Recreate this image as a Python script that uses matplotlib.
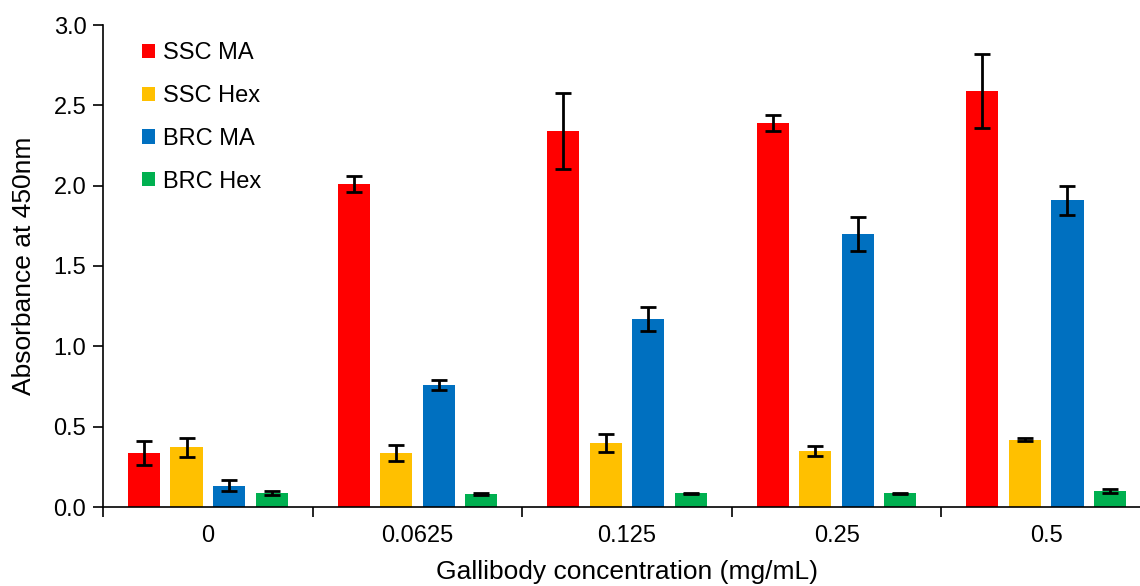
import matplotlib.pyplot as plt
import numpy as np

# data
concentrations = ["0", "0.0625", "0.125", "0.25", "0.5"]
series_names = ["SSC MA", "SSC Hex", "BRC MA", "BRC Hex"]
series_colors = ["#ff0000", "#ffc000", "#0070c0", "#00b050"]

ssc_ma = [0.336, 2.01, 2.34, 2.39, 2.59]
ssc_ma_err = [0.072, 0.05, 0.235, 0.05, 0.228]
ssc_hex = [0.371, 0.336, 0.40, 0.35, 0.42]
ssc_hex_err = [0.057, 0.05, 0.057, 0.03, 0.012]
brc_ma = [0.133, 0.76, 1.17, 1.70, 1.909]
brc_ma_err = [0.034, 0.03, 0.075, 0.105, 0.09]
brc_hex = [0.087, 0.08, 0.085, 0.085, 0.10]
brc_hex_err = [0.012, 0.005, 0.005, 0.005, 0.015]

values = [ssc_ma, ssc_hex, brc_ma, brc_hex]
errors = [ssc_ma_err, ssc_hex_err, brc_ma_err, brc_hex_err]

plt.rcParams['font.family'] = ['Liberation Sans', 'DejaVu Sans']

fig = plt.figure(figsize=(11.4, 5.86), dpi=100)
ax = fig.add_axes([103 / 1140, 1 - 507 / 586, 1048 / 1140, 482 / 586])

ind = np.arange(len(concentrations))
width = 0.153
step = 0.203
for i in range(4):
    offset = (i - 1.5) * step
    ax.bar(ind + offset, values[i], width, color=series_colors[i], label=series_names[i],
           yerr=errors[i], error_kw=dict(ecolor='black', elinewidth=2, capsize=6, capthick=2))

ax.set_xlim(-0.5, len(concentrations) - 0.5)
ax.set_ylim(0, 3.0)
ax.set_yticks(np.arange(0, 3.01, 0.5))
ax.set_yticklabels(["%.1f" % v for v in np.arange(0, 3.01, 0.5)])
ax.set_xticks(ind)
ax.set_xticklabels(concentrations)
ax.set_xticks(np.arange(-0.5, len(concentrations), 1.0), minor=True)
ax.tick_params(axis='x', which='major', length=0, pad=13, labelsize=17)
ax.tick_params(axis='x', which='minor', length=7, width=1.2, direction='out')
ax.tick_params(axis='y', length=7, width=1.2, labelsize=17, pad=5)

for side in ['top', 'right']:
    ax.spines[side].set_visible(False)
ax.spines['left'].set_linewidth(1.2)
ax.spines['bottom'].set_linewidth(1.2)

ax.set_ylabel('Absorbance at 450nm', fontsize=19, labelpad=13)
ax.set_xlabel('Gallibody concentration (mg/mL)', fontsize=19, labelpad=9)

ax.legend(loc='upper left', bbox_to_anchor=(0.017, 1.008), frameon=False, fontsize=17,
          handlelength=0.55, handleheight=0.55, handletextpad=0.35, labelspacing=0.88)

fig.savefig('out.png', dpi=100)
